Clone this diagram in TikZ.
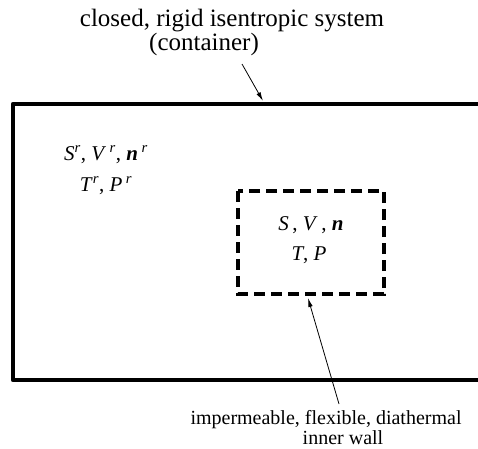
\documentclass[tikz,border=0pt]{standalone}
\usepackage{fontspec}
\setmainfont{Liberation Serif}
\usetikzlibrary{arrows.meta}
\newcommand{\supr}{\textsuperscript{\textit{r}}}
\tikzset{
  wall/.style={line width=4.5pt,line join=round},
  innerwall/.style={line width=3.5pt,dash pattern=on 11pt off 6pt},
  pointer/.style={-{Latex[length=9pt,width=4.5pt]},line width=0.8pt},
  bigtext/.style={inner sep=0pt,anchor=base,font=\fontsize{25}{25}\selectfont},
  smalltext/.style={inner sep=0pt,anchor=base,font=\fontsize{20}{20}\selectfont},
  statevars/.style={inner sep=0pt,anchor=base,font=\fontsize{21}{21}\selectfont}
}
\begin{document}
\begin{tikzpicture}[x=1pt,y=-1pt]
  \useasboundingbox (0,0) rectangle (478,448);
  % container and inner wall
  \draw [wall] (478,104) -- (13,104) -- (13,380) -- (478,380);
  \draw [innerwall] (238,191) rectangle (384,294);
  % labels
  \node [bigtext] (title) at (232,26) {closed, rigid isentropic system};
  \node [bigtext] (titlesub) at (204,50) {(container)};
  \node [statevars] (resvars) at (106,160) {\textit{S}\supr, \textit{V}\,\supr, \textbf{\textit{n}}\,\supr};
  \node [statevars] (restp) at (106,191) {\textit{T}\supr, \textit{P}\,\supr};
  \node [statevars] (sysvars) at (311,230) {\textit{S}\,, \textit{V}\,, \textbf{\textit{n}}};
  \node [statevars] (systp) at (309,260) {\textit{T}, \textit{P}};
  \node [smalltext] (wall) at (326,424) {impermeable, flexible, diathermal};
  \node [smalltext] (wallsub) at (343,444.5) {inner wall};
  % pointers
  \coordinate (topfrom) at (242,64);
  \coordinate (topto) at (263,101);
  \coordinate (botfrom) at (339,404);
  \coordinate (botto) at (308,298);
  \draw [pointer] (topfrom) -- (topto);
  \draw [pointer] (botfrom) -- (botto);
\end{tikzpicture}
\end{document}
